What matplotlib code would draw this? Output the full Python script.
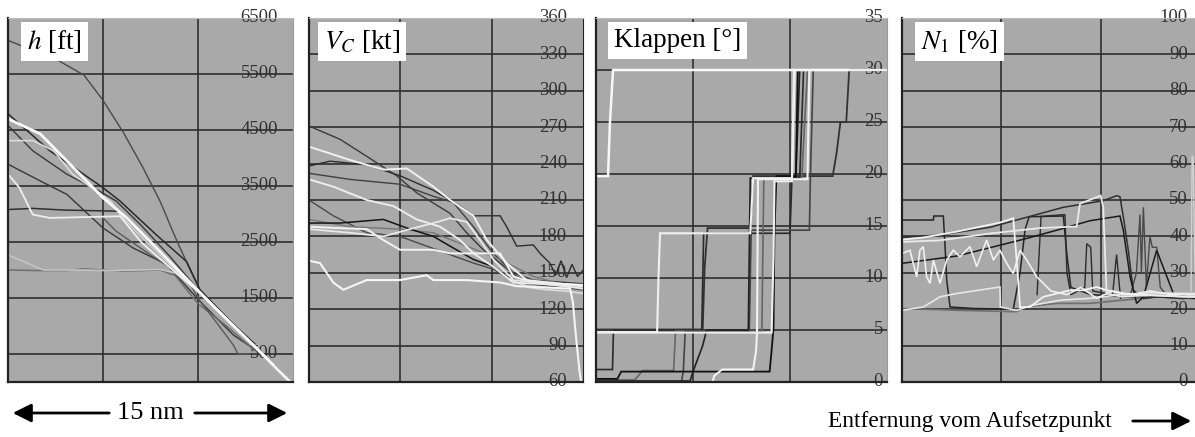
import matplotlib
matplotlib.use('Agg')
import matplotlib.pyplot as plt

plt.rcParams['font.family'] = ['Liberation Serif', 'DejaVu Serif']
plt.rcParams['mathtext.fontset'] = 'stix'

# --- altitude h [ft] vs distance [nm] ---
h_x1 = [0, 2.6, 4.0, 5.0, 6.1, 7.1, 8.0, 8.9, 9.7, 10.1, 11.0, 12.0, 13.0, 14.2, 14.85]
h_y1 = [6100, 5750, 5480, 5030, 4440, 3830, 3230, 2510, 1920, 1640, 1310, 980, 650, 240, 0]
h_x2 = [0, 2.2, 5.0, 5.9, 7.8, 9.4, 10.1, 11.0, 12.0, 13.0, 14.0]
h_y2 = [4790, 4130, 3470, 3230, 2630, 2150, 1650, 1330, 980, 640, 300]
h_x3 = [0, 1.7, 5.0, 6.25, 7.65, 10.1, 11.0, 12.0, 13.0, 14.2, 14.85]
h_y3 = [4700, 4430, 3290, 2930, 2450, 1600, 1290, 960, 630, 220, 0]
h_x4 = [0, 1.3, 2.4, 3.4, 5.4, 5.9, 7.0, 8.5, 10.1, 12.0, 14.0]
h_y4 = [4310, 4310, 4130, 3710, 3230, 2990, 2600, 2100, 1600, 970, 300]
h_x5 = [0, 1.3, 3.1, 4.8, 5.7, 7.0, 8.5, 10.0, 11.5, 13.0]
h_y5 = [4580, 4130, 3710, 3410, 3230, 2800, 2250, 1650, 1150, 680]
h_x6 = [0, 1.7, 3.1, 5.0, 6.6, 8.35, 10.1, 11.86, 12.9, 13.3]
h_y6 = [3890, 3590, 3350, 2750, 2390, 2100, 1440, 840, 600, 560]
h_x7 = [0, 0.6, 1.3, 2.2, 5.9, 7.0, 8.5, 10.1, 12.0, 14.0]
h_y7 = [3710, 3470, 2990, 2930, 2960, 2500, 2050, 1600, 960, 300]
h_x8 = [0, 1.3, 3.0, 5.8, 7.0, 8.5, 10.1, 12.0]
h_y8 = [3080, 3100, 3070, 3050, 2600, 2100, 1620, 980]
h_x9 = [0, 1.86, 3.5, 5.5, 8.0, 8.8, 10.1, 12.0, 13.5, 14.5]
h_y9 = [2270, 2000, 2000, 1990, 2010, 1950, 1580, 950, 450, 120]
h_x10 = [0, 1.5, 3.1, 4.0, 6.0, 8.0, 8.8, 10.0, 11.5, 13.0]
h_y10 = [2000, 1990, 1990, 2020, 1980, 2000, 1900, 1400, 1000, 560]
h_x11 = [5.0, 5.7, 7.5, 9.4, 10.1, 11.0, 11.84, 12.1, 12.7]
h_y11 = [2930, 2690, 2270, 1850, 1450, 1050, 670, 505, 500]

# --- calibrated airspeed V_C [kt] ---
v_x1 = [0, 1.7, 3.16, 4.8, 5.89, 7.72, 8.63, 9.54, 10.46, 11.37, 12.28, 15.0]
v_y1 = [271, 260, 246, 230, 216, 199, 183, 169, 158, 147, 142, 139]
v_x2 = [0, 2.24, 4.07, 5.35, 6.81, 7.72, 9.0, 9.73, 10.82, 11.92, 15]
v_y2 = [254, 243, 235, 236, 221, 210, 197, 177, 158, 144, 139]
v_x3 = [0, 1.15, 3.16, 4.98, 5.89, 6.81, 8.27, 9.0, 10.09, 10.46, 10.82, 11.37,
        12.28, 12.65, 13.19, 13.5, 13.8, 14.1, 14.4, 14.7, 15]
v_y3 = [238, 242, 239, 230, 224, 218, 205, 197, 197, 197, 188, 172,
        173, 166, 158, 148, 160, 146, 157, 147, 152]
v_x4 = [0, 2.24, 4.98, 6.81, 7.9, 9.0, 10.09, 11.19, 12.28, 15]
v_y4 = [232, 227, 223, 213, 208, 188, 166, 150, 144, 141]
v_x5 = [0, 1.33, 3.16, 4.62, 5.89, 7.17, 8.27, 9.0, 10.09, 11.19, 15]
v_y5 = [227, 221, 210, 205, 194, 188, 177, 166, 155, 142, 139]
v_x6 = [0, 1.33, 3.16, 4.98, 6.44, 7.9, 9.0, 10.09, 11.37, 15]
v_y6 = [210, 197, 183, 180, 172, 164, 158, 153, 142, 136]
v_x7 = [0, 1.7, 4.07, 5.53, 6.81, 7.72, 9.0, 10.09, 10.82, 11.55, 15]
v_y7 = [191, 191, 194, 186, 180, 172, 161, 155, 147, 142, 139]
v_x8 = [0, 2.24, 4.98, 6.81, 8.63, 10.46, 12.28, 15]
v_y8 = [194, 188, 186, 183, 172, 161, 147, 136]
v_x9 = [0, 1.33, 3.16, 4.07, 4.98, 6.81, 7.72, 9.18, 10.46, 11.19, 12.28, 15]
v_y9 = [188, 187, 186, 177, 169, 169, 166, 166, 166, 147, 142, 140]
v_x10 = [0, 2.24, 4.07, 5.53, 6.81, 7.72, 8.63, 9.36, 10.09, 11.19, 15]
v_y10 = [186, 183, 180, 186, 191, 195, 192, 177, 161, 144, 137]
v_x11 = [0, 0.6, 1.33, 1.88, 3.16, 4.98, 6.44, 6.81, 8.63, 10.46, 11.37, 14.3,
         14.45, 14.6, 14.8, 14.9]
v_y11 = [160, 158, 142, 136, 144, 144, 148, 144, 144, 142, 139, 137,
         125, 100, 70, 60]
v_x12 = [11.0, 12.0, 13.0, 14.0, 15]
v_y12 = [145, 138, 136, 135, 133]

# --- flap setting [deg] ---
k_x1 = [0, 0.62, 0.72, 0.88, 13.0]
k_y1 = [19.8, 19.8, 25, 30, 30]
k_x2 = [0, 3.15, 3.22, 3.3, 5.7, 7.95, 8.1, 10.1, 10.25, 15]
k_y2 = [4.8, 4.8, 10, 14.3, 14.3, 14.3, 19.6, 19.6, 30, 30]
k_x3 = [0, 6.0, 6.1, 6.5, 8.1, 8.25, 8.3, 8.35, 10.9, 11.0, 15]
k_y3 = [0, 0, 0.6, 1.2, 1.2, 3, 4.8, 19.5, 19.5, 30, 30]
k_x4 = [0, 9.05, 9.15, 9.2, 10.1, 10.2, 15]
k_y4 = [4.75, 4.75, 12, 19.3, 19.3, 30, 30]
k_x5 = [0, 1.1, 1.3, 8.95, 9.05, 9.15, 9.2, 9.3, 10.3, 10.4, 15]
k_y5 = [0.3, 0.3, 1.0, 1.0, 3, 5.2, 14.5, 19.8, 19.8, 30, 30]
k_x6 = [0, 5.5, 5.6, 5.75, 7.95, 8.1, 12.2, 12.4, 12.6, 12.9, 13.05, 15]
k_y6 = [5.05, 5.05, 11, 14.8, 14.8, 19.8, 19.8, 22, 25, 25, 30, 30]
k_x7 = [0, 0.85, 0.9, 5.45, 5.55, 10.0, 10.1, 10.5, 10.7, 15]
k_y7 = [1.2, 1.2, 4.95, 4.95, 14.3, 14.3, 19.6, 19.6, 30, 30]
k_x8 = [0, 2.0, 2.4, 4.0, 4.1, 8.55, 8.65, 10.6, 10.9, 15]
k_y8 = [0.2, 0.2, 1.1, 1.1, 4.9, 4.9, 19.5, 19.5, 30, 30]
k_x9 = [0, 4.4, 4.5, 4.6, 7.9, 8.0, 11.0, 11.05, 11.2, 15]
k_y9 = [0, 0, 1.0, 4.9, 4.9, 14.6, 14.6, 19.6, 30, 30]
k_x10 = [0, 4.85, 5.0, 5.5, 5.7, 7.85, 7.95, 10.3, 10.5, 15]
k_y10 = [0.1, 0.1, 1.0, 3.5, 5.0, 5.0, 19.6, 19.6, 30, 30]

# --- engine N1 [%] ---
n_x1 = [0, 1.58, 1.6, 2.08, 2.16, 2.25, 2.42, 3.6, 5.6, 5.94, 6.2, 6.4, 8.12, 8.3,
        8.5, 9.5, 11.0, 13.0, 14.75]
n_y1 = [44.5, 44.5, 45.6, 45.6, 38, 28, 20.6, 20.2, 20.0, 30, 42, 45.4, 45.6, 35,
        26, 24, 23.5, 23.3, 23.2]
n_x2 = [0, 1.91, 4.43, 6.11, 8.12, 10.13, 10.81, 10.97, 11.14, 11.39, 11.64, 12.15,
        12.82, 14.16, 14.75]
n_y2 = [39.7, 40.4, 42.5, 45.0, 48.0, 49.8, 51.2, 50.9, 45.4, 36.2, 25.2, 22.9,
        23.4, 22.9, 23.4]
n_x3 = [0, 1.07, 2.75, 4.93, 5.6, 5.77, 5.94, 6.44, 7.11, 7.79, 8.46, 9.13, 9.8,
        10.3, 11.14, 14.16, 14.75]
n_y3 = [39.1, 39.7, 41.3, 43.8, 45.0, 33.5, 20.6, 20.6, 23.4, 24.3, 25.2, 25.2,
        26.1, 25.2, 24.3, 23.4, 23.4]
n_x4 = [0, 1.91, 4.43, 6.95, 8.79, 8.96, 10.0, 10.13, 10.3, 11.0, 12.5, 14.75]
n_y4 = [38.5, 38.9, 40.8, 42.3, 42.7, 49.0, 51.2, 48, 24.3, 23.5, 23.8, 23.4]
n_x5 = [0, 2.75, 6.11, 7.79, 9.46, 10.97, 11.14, 11.48, 11.81, 12.15, 12.82,
        13.66, 14.75]
n_y5 = [32.6, 34.6, 39.2, 41.7, 44.3, 45.6, 41.7, 28.9, 21.6, 23.4, 36.2, 24.3, 22.9]
n_x6 = [0, 0.4, 0.74, 0.9, 1.07, 1.24, 1.41, 1.58, 1.91, 2.25, 2.58, 2.92, 3.42,
        3.76, 4.26, 4.6, 4.93, 5.27, 5.6, 5.94, 6.28, 6.78, 7.5, 8.3, 9.0, 9.8,
        10.6, 11.5, 12.5, 13.5, 14.75]
n_y6 = [35.3, 36.2, 28.9, 36.2, 37.2, 28.9, 27.1, 33.5, 27.1, 33.5, 36.2, 34.4,
        37.2, 31.7, 39.0, 33.5, 36.2, 32.6, 29.8, 36.2, 33.5, 28.9, 25, 24, 26,
        23, 25, 24, 25, 24, 24]
n_x7 = [0, 1.07, 1.91, 2.75, 4.93, 4.95, 5.77, 6.5, 8, 9.5, 11, 12.5, 14.75]
n_y7 = [19.7, 20.6, 23.4, 24.3, 26.1, 20.6, 19.7, 21.0, 22.5, 23.0, 24.0, 24.5, 24.3]
n_x8 = [0, 2.75, 5.77, 6.11, 7.79, 9.46, 11.14, 12.82, 14.75]
n_y8 = [20.2, 19.7, 19.3, 20.6, 21.6, 21.6, 22.5, 23.4, 22.9]
n_x9 = [11.5, 11.8, 11.98, 12.05, 12.15, 12.3, 12.48, 12.6, 12.82, 13.0, 13.3]
n_y9 = [24, 30, 46, 30, 48, 26, 40, 37, 37, 26, 24]
n_x10 = [14.55, 14.6, 14.65, 14.75]
n_y10 = [25, 62, 62, 30]
n_x11 = [6.8, 6.9, 7.0, 8.2, 8.3, 8.5, 9.2, 9.3, 9.5, 9.6, 10.6, 10.8, 11.0]
n_y11 = [24, 35, 45.5, 46, 30, 24, 26, 38, 37, 25, 24, 35, 23]

h_ticks = [6500, 5500, 4500, 3500, 2500, 1500, 500]
v_ticks = [360, 330, 300, 270, 240, 210, 180, 150, 120, 90, 60]
k_ticks = [35, 30, 25, 20, 15, 10, 5, 0]
n_ticks = [100, 90, 80, 70, 60, 50, 40, 30, 20, 10, 0]
titles = [r'$h$ [ft]', r'$V_C$ [kt]', 'Klappen [°]', r'$N_1$ [%]']

BG = '#a9a9a9'
GRID = '#2e2e2e'

panels = [
    dict(rect=[8, 285], ylim=(0, 6500), ticks=h_ticks, lab_off=15, title_off=19,
         series=[(h_x1, h_y1, '#4a4a4a', 1.0), (h_x2, h_y2, '#2a2a2a', 1.1),
                 (h_x5, h_y5, '#3a3a3a', 1.0), (h_x6, h_y6, '#383838', 1.0),
                 (h_x8, h_y8, '#303030', 1.1), (h_x10, h_y10, '#6e6e6e', 1.1),
                 (h_x11, h_y11, '#5a5a5a', 1.0), (h_x9, h_y9, '#c4c4c4', 1.2),
                 (h_x4, h_y4, '#dadada', 1.2), (h_x7, h_y7, '#eeeeee', 1.3),
                 (h_x3, h_y3, '#f8f8f8', 2.0)]),
    dict(rect=[309, 274], ylim=(60, 360), ticks=v_ticks, lab_off=16, title_off=15,
         series=[(v_x1, v_y1, '#3a3a3a', 1.0), (v_x3, v_y3, '#2e2e2e', 1.0),
                 (v_x4, v_y4, '#404040', 1.0), (v_x6, v_y6, '#4a4a4a', 1.0),
                 (v_x8, v_y8, '#777777', 1.0), (v_x7, v_y7, '#151515', 1.1),
                 (v_x12, v_y12, '#dcdcdc', 1.2), (v_x2, v_y2, '#f0f0f0', 1.4),
                 (v_x5, v_y5, '#ececec', 1.4), (v_x9, v_y9, '#f2f2f2', 1.4),
                 (v_x10, v_y10, '#e8e8e8', 1.3), (v_x11, v_y11, '#f5f5f5', 1.5)]),
    dict(rect=[596, 291], ylim=(0, 35), ticks=k_ticks, lab_off=4, title_off=18,
         series=[(k_x6, k_y6, '#333333', 1.3), (k_x7, k_y7, '#2a2a2a', 1.2),
                 (k_x8, k_y8, '#666666', 1.2), (k_x9, k_y9, '#444444', 1.2),
                 (k_x10, k_y10, '#222222', 1.2), (k_x5, k_y5, '#111111', 1.3),
                 (k_x2, k_y2, '#f0f0f0', 1.5), (k_x3, k_y3, '#f2f2f2', 1.5),
                 (k_x4, k_y4, '#eeeeee', 1.5), (k_x1, k_y1, '#f8f8f8', 1.8)]),
    dict(rect=[902, 298], ylim=(0, 100), ticks=n_ticks, lab_off=12, title_off=19,
         series=[(n_x8, n_y8, '#707070', 1.2), (n_x9, n_y9, '#4a4a4a', 1.0),
                 (n_x10, n_y10, '#cfcfcf', 1.0), (n_x11, n_y11, '#2c2c2c', 1.0),
                 (n_x1, n_y1, '#262626', 1.1),
                 (n_x2, n_y2, '#303030', 1.1), (n_x5, n_y5, '#1a1a1a', 1.1),
                 (n_x7, n_y7, '#e6e6e6', 1.2), (n_x6, n_y6, '#f0f0f0', 1.2),
                 (n_x3, n_y3, '#f2f2f2', 1.3), (n_x4, n_y4, '#eaeaea', 1.3)]),
]

W, H = 1195, 437
fig = plt.figure(figsize=(W / 100, H / 100), dpi=100)
top, bottom = 18, 382

for i, p in enumerate(panels):
    left, width = p['rect']
    ax = fig.add_axes([left / W, 1 - bottom / H, width / W, (bottom - top) / H])
    ax.set_facecolor(BG)
    ax.set_xlim(0, 15)
    ax.set_ylim(*p['ylim'])
    ax.set_xticks([5, 10])
    ax.set_yticks(p['ticks'])
    ax.set_axisbelow(True)
    ax.grid(True, color=GRID, lw=1.2)
    ax.tick_params(length=0, labelbottom=False, labelleft=False)
    for s in ['left', 'bottom']:
        ax.spines[s].set_color('#222222')
        ax.spines[s].set_linewidth(1.6)
    ax.spines['top'].set_color('#bdbdbd')
    ax.spines['right'].set_color('#222222' if i == 1 else '#9a9a9a')
    for xs, ys, c, lw in p['series']:
        ax.plot(xs, ys, color=c, lw=lw, solid_joinstyle='miter', zorder=2)
    xl = 1 - p['lab_off'] / width
    for t in p['ticks']:
        ax.text(xl, t, str(t), transform=ax.get_yaxis_transform(), ha='right',
                va='center', fontsize=13.5, color='#333333', zorder=0.4,
                clip_on=False)
    ax.annotate(titles[i], xy=(0, 1), xycoords='axes fraction',
                xytext=(p['title_off'], -10), textcoords='offset pixels',
                ha='left', va='top', fontsize=19.5, color='black', zorder=5,
                bbox=dict(boxstyle='square,pad=0.22', fc='white', ec='none'))

# distance annotations below the panels
fig.text(150 / W, 24 / H, '15 nm', ha='center', va='center', fontsize=19)
arrow = dict(arrowstyle='-|>', color='black', lw=2, mutation_scale=28)
fig.add_artist(plt.Annotation('', xy=(10, 24), xytext=(112, 24),
                              xycoords='figure pixels', arrowprops=arrow))
fig.add_artist(plt.Annotation('', xy=(290, 24), xytext=(192, 24),
                              xycoords='figure pixels', arrowprops=arrow))
fig.text(970 / W, 16 / H, 'Entfernung vom Aufsetzpunkt', ha='center',
         va='center', fontsize=16.8)
fig.add_artist(plt.Annotation('', xy=(1194, 16), xytext=(1130, 16),
                              xycoords='figure pixels', arrowprops=arrow))

fig.savefig('out.png', dpi=100, facecolor='white')
